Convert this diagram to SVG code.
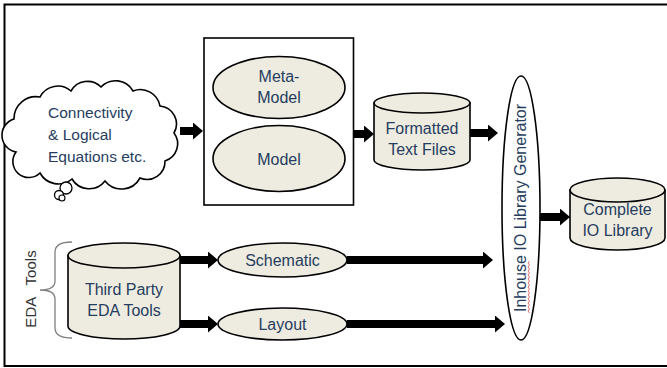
<svg xmlns="http://www.w3.org/2000/svg" width="667" height="368" viewBox="0 0 667 368">
  <defs>
    <marker id="head" markerUnits="userSpaceOnUse" markerWidth="10" markerHeight="17" refX="0" refY="8.5" orient="auto">
      <path d="M0,0 L10,8.5 L0,17 Z" fill="#000"/>
    </marker>
    <style>
      .lbl { font-family: "Liberation Sans", Arial, sans-serif; font-size: 16px; fill: #263d5e; text-anchor: middle; }
      .shape { fill: #eeece1; stroke: #000; stroke-width: 1.6; }
      .arrow { stroke: #000; stroke-width: 8; fill: none; marker-end: url(#head); }
    </style>
  </defs>

  <rect width="667" height="368" fill="#fff"/>
  <!-- outer frame: top, left and bottom edges -->
  <path d="M667,4.5 L4.5,4.5 L4.5,366 L667,366" fill="none" stroke="#000" stroke-width="2"/>

  <!-- connectors -->
  <g id="connectors">
    <line class="arrow" x1="180" y1="131" x2="193" y2="131"/>
    <rect x="269" y="113" width="19" height="15" fill="#000"/>
    <line class="arrow" x1="354" y1="134" x2="364" y2="134"/>
    <line class="arrow" x1="470" y1="133" x2="488" y2="133"/>
    <line class="arrow" x1="540" y1="217" x2="560" y2="217" stroke-width="10"/>
    <line class="arrow" x1="180" y1="260" x2="208" y2="260"/>
    <line class="arrow" x1="180" y1="324" x2="208" y2="324"/>
    <line class="arrow" x1="347" y1="260" x2="483" y2="260"/>
    <line class="arrow" x1="347" y1="324" x2="495" y2="324"/>
  </g>

  <!-- thought cloud -->
  <g id="cloud">
    <path d="M16,152 A17,17 0 0 1 14,119 A22,22 0 0 1 40,97 A20,20 0 0 1 71,91 A19,19 0 0 1 101,87 A20,20 0 0 1 133,91 A20,20 0 0 1 160,106 A18,18 0 0 1 174,133 A18,18 0 0 1 165,161 A18,18 0 0 1 140,178 A21,21 0 0 1 105,181 A20,20 0 0 1 72,179 A21,21 0 0 1 40,173 A16,16 0 0 1 16,152 Z" fill="#fff" stroke="#000" stroke-width="1.6"/>
    <circle cx="66" cy="188" r="6" fill="#fff" stroke="#000" stroke-width="1.3"/>
    <circle cx="59" cy="195" r="4.5" fill="#fff" stroke="#000" stroke-width="1.3"/>
    <circle cx="62" cy="198" r="3" fill="#fff" stroke="#000" stroke-width="1.1"/>
    <text class="lbl" style="text-anchor:start;font-size:15.5px">
      <tspan x="48" y="118">Connectivity</tspan>
      <tspan x="48" y="140">&amp; Logical</tspan>
      <tspan x="48" y="162">Equations etc.</tspan>
    </text>
  </g>

  <!-- model box -->
  <g id="model-box">
    <rect x="204" y="38" width="149.5" height="167" fill="#fff" stroke="#000" stroke-width="1.6"/>
  </g>
  <g id="meta-model">
    <ellipse class="shape" cx="279" cy="87.5" rx="66" ry="31"/>
    <text class="lbl"><tspan x="279" y="82">Meta-</tspan><tspan x="279" y="103">Model</tspan></text>
  </g>
  <g id="model">
    <ellipse class="shape" cx="279" cy="158.5" rx="66" ry="33"/>
    <text class="lbl" x="279" y="165">Model</text>
  </g>

  <!-- Formatted Text Files -->
  <g id="formatted-text-files">
    <path class="shape" d="M374,103 L374,160 A48,10 0 0 0 470,160 L470,103 Z"/>
    <ellipse class="shape" cx="422" cy="103" rx="48" ry="10"/>
    <text class="lbl"><tspan x="422" y="134">Formatted</tspan><tspan x="422" y="155">Text Files</tspan></text>
  </g>

  <!-- generator -->
  <g id="io-library-generator">
    <ellipse cx="521" cy="208" rx="19" ry="132" fill="#fff" stroke="#000" stroke-width="1.6"/>
    <g transform="translate(526,208) rotate(-90)">
      <text class="lbl" x="0" y="0">Inhouse IO Library Generator</text>
      <path d="M-105,3.5 l2,-1.5 l2,1.5 l2,-1.5 l2,1.5 l2,-1.5 l2,1.5 l2,-1.5 l2,1.5 l2,-1.5 l2,1.5 l2,-1.5 l2,1.5 l2,-1.5 l2,1.5 l2,-1.5 l2,1.5 l2,-1.5 l2,1.5 l2,-1.5 l2,1.5 l2,-1.5 l2,1.5 l2,-1.5 l2,1.5 l2,-1.5 l2,1.5" fill="none" stroke="#e04848" stroke-width="0.8"/>
    </g>
  </g>

  <!-- Complete IO Library -->
  <g id="complete-io-library">
    <path class="shape" d="M570,190 L570,238 A47.5,12 0 0 0 665,238 L665,190 Z"/>
    <ellipse class="shape" cx="617.5" cy="190" rx="47.5" ry="12"/>
    <text class="lbl"><tspan x="617.5" y="215">Complete</tspan><tspan x="617.5" y="236">IO Library</tspan></text>
  </g>

  <!-- EDA tools -->
  <g id="eda-tools">
    <path d="M72,242 Q55,242 55,252 L55,281 Q55,290 40,290 Q55,290 55,299 L55,328 Q55,338 72,338" fill="none" stroke="#808080" stroke-width="1.3"/>
    <text class="lbl" transform="translate(36,289) rotate(-90)" x="0" y="0" style="font-size:15px;fill:#333;white-space:pre">EDA   Tools</text>
  </g>
  <g id="third-party-eda-tools">
    <path class="shape" d="M68,255.5 L68,326 A56,13 0 0 0 180,326 L180,255.5 Z"/>
    <ellipse class="shape" cx="124" cy="255.5" rx="56" ry="12.5"/>
    <text class="lbl"><tspan x="124" y="295">Third Party</tspan><tspan x="124" y="316">EDA Tools</tspan></text>
  </g>

  <g id="schematic">
    <ellipse class="shape" cx="282.5" cy="260" rx="64.5" ry="17"/>
    <text class="lbl" x="282.5" y="266">Schematic</text>
  </g>
  <g id="layout">
    <ellipse class="shape" cx="282.5" cy="324" rx="64.5" ry="16"/>
    <text class="lbl" x="282.5" y="330">Layout</text>
  </g>
</svg>
